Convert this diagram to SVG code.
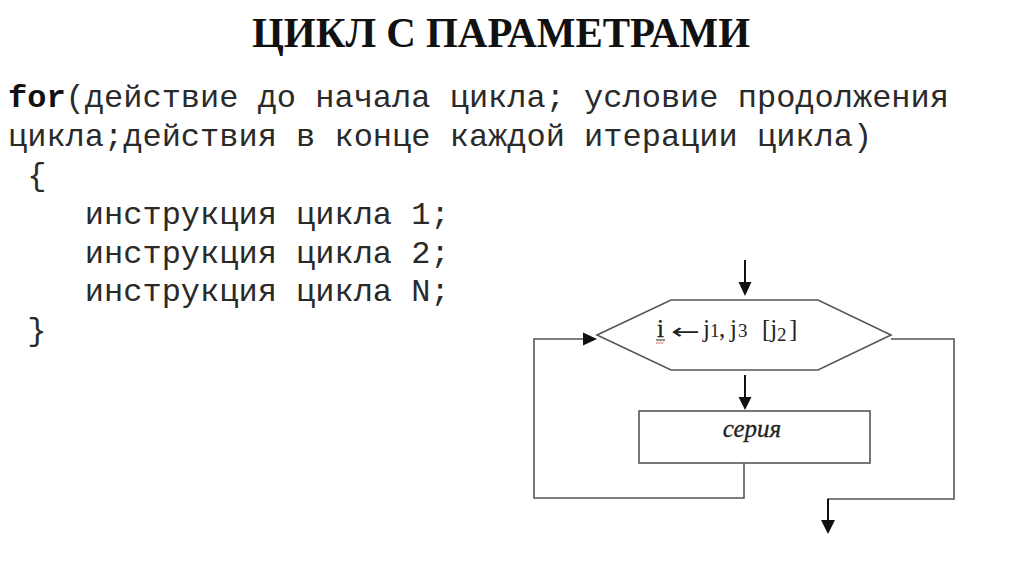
<svg xmlns="http://www.w3.org/2000/svg" width="1024" height="574" viewBox="0 0 1024 574">
<defs>
<style>
.code{font-family:"Liberation Mono","Courier New",monospace;font-size:32px;fill:#2a2a2a;white-space:pre}
.title{font-family:"Liberation Serif","Times New Roman",serif;font-size:43px;font-weight:bold;fill:#111}
.shape{fill:#fff;stroke:#555;stroke-width:1.6}
.flow{fill:none;stroke:#555;stroke-width:1.6}
.shaft{stroke:#111;stroke-width:2}
.head{fill:#111}
.lbl{font-family:"Liberation Serif","Times New Roman",serif;font-size:25px;fill:#222}
.sub{font-size:19px}
</style>
</defs>
<rect width="1024" height="574" fill="#fff"/>
<text class="title" x="252" y="47" textLength="498" lengthAdjust="spacingAndGlyphs">ЦИКЛ С ПАРАМЕТРАМИ</text>
<g id="code">
<text class="code" x="8" y="107" xml:space="preserve"><tspan font-weight="bold" fill="#111">for</tspan>(действие до начала цикла; условие продолжения</text>
<text class="code" x="8" y="146" xml:space="preserve">цикла;действия в конце каждой итерации цикла)</text>
<text class="code" x="8" y="185" xml:space="preserve"> {</text>
<text class="code" x="8" y="224" xml:space="preserve">    инструкция цикла 1;</text>
<text class="code" x="8" y="263" xml:space="preserve">    инструкция цикла 2;</text>
<text class="code" x="8" y="301" xml:space="preserve">    инструкция цикла N;</text>
<text class="code" x="8" y="340" xml:space="preserve"> }</text>
</g>
<g id="connectors">
<line class="shaft" x1="745" y1="260" x2="745" y2="286"/>
<polygon class="head" points="738.5,282 751.5,282 745,296"/>
<line class="shaft" x1="745" y1="375" x2="745" y2="400"/>
<polygon class="head" points="738.5,397 751.5,397 745,410"/>
<polyline class="flow" points="744,463 744,498 534,498 534,339 586,339"/>
<polygon class="head" points="583,332.5 583,345.5 597,339"/>
<polyline class="flow" points="891,339 954,339 954,499 828,499 828,523"/>
<line class="shaft" x1="828" y1="499" x2="828" y2="524"/>
<polygon class="head" points="821,520 835,520 828,534"/>
</g>
<g id="node-loop">
<polygon class="shape" points="597,335 671,300 818,300 891,335 818,370 671,370"/>
<text class="lbl" y="337"><tspan x="657" stroke="#222" stroke-width="0.3">i</tspan><tspan x="703">j</tspan><tspan class="sub" x="710">1</tspan><tspan x="719">,</tspan><tspan x="730">j</tspan><tspan class="sub" x="738">3</tspan><tspan x="762">[j</tspan><tspan class="sub" x="777" dy="4">2</tspan><tspan x="789" dy="-4">]</tspan></text>
<text x="671" y="339" font-family="DejaVu Sans, sans-serif" font-size="22" fill="#222" textLength="29" lengthAdjust="spacingAndGlyphs">←</text>
<line x1="656" y1="340" x2="665" y2="340" stroke="#222" stroke-width="1"/>
<path d="M656,343.5 l1.5,-1.2 l1.5,1.2 l1.5,-1.2 l1.5,1.2 l1.5,-1.2" fill="none" stroke="#c33" stroke-width="0.8"/>
</g>
<g id="node-series">
<rect class="shape" x="639" y="411" width="231" height="52"/>
<text class="lbl" x="752" y="437" text-anchor="middle" font-style="italic" font-size="24" stroke="#222" stroke-width="0.3">серия</text>
</g>
</svg>
